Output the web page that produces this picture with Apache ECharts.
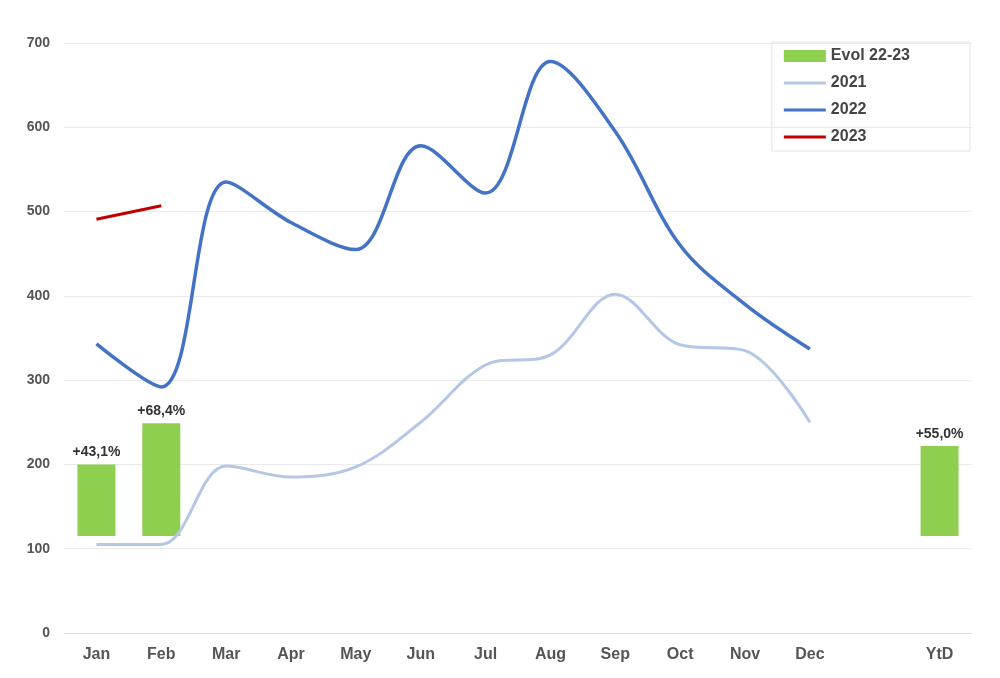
<!DOCTYPE html>
<html><head><meta charset="utf-8">
<script src="https://cdn.jsdelivr.net/npm/echarts@6/dist/echarts.min.js"></script>
<style>html,body{margin:0;background:#fff}#c{width:1000px;height:678px}</style>
</head><body><div id="c"></div>
<script>
const months = ['Jan','Feb','Mar','Apr','May','Jun','Jul','Aug','Sep','Oct','Nov','Dec','','YtD']
const v2021 = [105,105,198,185,197,250,318,330,402,342,335,250]
const v2022 = [343,292,535,487,455,578,522,678,595,460,390,337]
const v2023 = [491,507]
// floating bars: base and top
const barBase = [115,115,null,null,null,null,null,null,null,null,null,null,null,115]
const barTop = [200,249,null,null,null,null,null,null,null,null,null,null,null,222]
const barLabels = ['+43,1%','+68,4%','','','','','','','','','','','','+55,0%']

const chart = echarts.init(document.getElementById('c'))
const font = 'Arial, Liberation Sans, sans-serif'
const lineIcon = 'path://M0,0H42V3H0Z'
chart.setOption({
  textStyle: { fontFamily: font },
  grid: { left: 64, right: 28, top: 43, bottom: 45 },
  legend: {
    orient: 'vertical', right: 30, top: 42, itemGap: 11, itemWidth: 42, itemHeight: 12,
    borderColor: '#e4e4e4', borderWidth: 1, padding: [6, 60, 6, 12],
    textStyle: { fontSize: 16, fontWeight: 'bold', color: '#444' },
    data: [
      { name: 'Evol 22-23', icon: 'rect' },
      { name: '2021', icon: lineIcon },
      { name: '2022', icon: lineIcon },
      { name: '2023', icon: lineIcon }
    ]
  },
  xAxis: {
    type: 'category', data: months, boundaryGap: true,
    axisLine: { lineStyle: { color: '#ddd' } }, axisTick: { show: false },
    axisLabel: { fontSize: 16, fontWeight: 'bold', color: '#555', margin: 14 }
  },
  yAxis: {
    type: 'value', min: 0, max: 700, interval: 100,
    axisLabel: { fontSize: 14, fontWeight: 'bold', color: '#555', margin: 14 },
    splitLine: { lineStyle: { color: '#eaeaea' } }
  },
  series: [
    { type: 'bar', stack: 'b', data: barBase, barWidth: 38, itemStyle: { color: 'transparent' }, silent: true },
    { name: 'Evol 22-23', type: 'bar', stack: 'b', barWidth: 38,
      data: barTop.map((t, i) => t == null ? null : t - barBase[i]),
      itemStyle: { color: '#8fcf4f' },
      label: { show: true, position: 'top', fontSize: 14, fontWeight: 'bold', color: '#333',
        formatter: p => barLabels[p.dataIndex] } },
    { name: '2021', type: 'line', smooth: 0.35, symbol: 'none', data: v2021, lineStyle: { color: '#b4c7e7', width: 3 }, itemStyle: { color: '#b4c7e7' } },
    { name: '2022', type: 'line', smooth: 0.35, symbol: 'none', data: v2022, lineStyle: { color: '#4472c4', width: 3.5 }, itemStyle: { color: '#4472c4' } },
    { name: '2023', type: 'line', symbol: 'none', data: v2023, lineStyle: { color: '#c00000', width: 3 }, itemStyle: { color: '#c00000' } }
  ]
})
</script></body></html>
